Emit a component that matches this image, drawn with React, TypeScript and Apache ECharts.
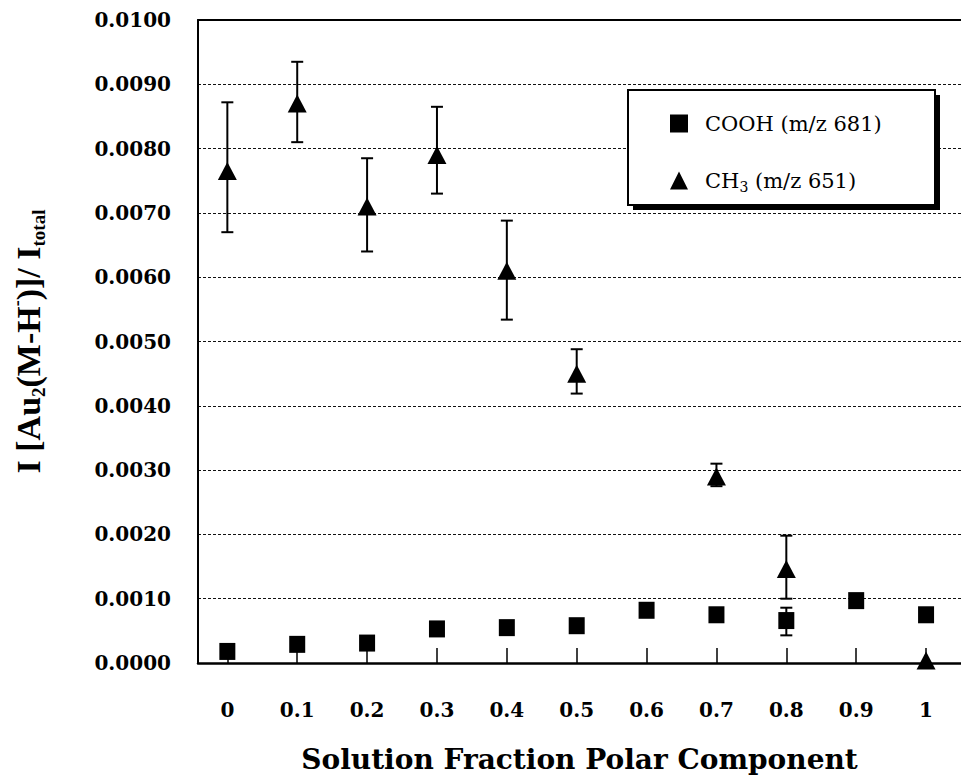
import React, { useEffect, useRef } from "react";
import * as echarts from "echarts";

// Solution fraction of the polar component (x positions of the samples)
const fractions = [0, 0.1, 0.2, 0.3, 0.4, 0.5, 0.6, 0.7, 0.8, 0.9, 1];
const xTicks = [0, 0.1, 0.2, 0.3, 0.4, 0.5, 0.6, 0.7, 0.8, 0.9, 1];
const yTicks = [0, 0.001, 0.002, 0.003, 0.004, 0.005, 0.006, 0.007, 0.008, 0.009, 0.01];

// COOH-terminated component, m/z 681
const coohValues = [0.00018, 0.00029, 0.00031, 0.00053, 0.00055, 0.00058, 0.00082, 0.00075, 0.00066, 0.00097, 0.00075];
const coohLow = [null, null, null, null, null, null, null, null, 0.00043, null, null];
const coohHigh = [null, null, null, null, null, null, null, null, 0.00086, null, null];

// CH3-terminated component, m/z 651
const ch3Values = [0.00765, 0.0087, 0.0071, 0.0079, 0.0061, 0.0045, null, 0.0029, 0.00146, null, 0.00004];
const ch3Low = [0.0067, 0.0081, 0.0064, 0.0073, 0.00534, 0.00419, null, 0.00275, 0.001, null, null];
const ch3High = [0.00872, 0.00935, 0.00785, 0.00865, 0.00688, 0.00488, null, 0.0031, 0.00198, null, null];

const serif = "'DejaVu Serif', 'Liberation Serif', serif";
const timesBold = "'Liberation Serif', 'DejaVu Serif', serif";

const points = (vals: (number | null)[]) =>
  fractions.map((x, i) => (vals[i] == null ? null : [x, vals[i]])).filter((d) => d !== null);

const ranges = (lo: (number | null)[], hi: (number | null)[]) =>
  fractions
    .map((x, i) => (lo[i] == null || hi[i] == null ? null : [x, lo[i], hi[i]]))
    .filter((d) => d !== null);

const errorBars = (id: string, lo: (number | null)[], hi: (number | null)[]) => ({
  type: "custom",
  id,
  data: ranges(lo, hi),
  encode: { x: 0, y: [1, 2] },
  z: 1,
  silent: true,
  renderItem: (_params: any, api: any) => {
    const x = api.value(0);
    const top = api.coord([x, api.value(2)]);
    const bot = api.coord([x, api.value(1)]);
    const cap = 6;
    const style = { stroke: "#000", lineWidth: 2 };
    return {
      type: "group",
      children: [
        { type: "line", shape: { x1: top[0], y1: top[1], x2: bot[0], y2: bot[1] }, style },
        { type: "line", shape: { x1: top[0] - cap, y1: top[1], x2: top[0] + cap, y2: top[1] }, style },
        { type: "line", shape: { x1: bot[0] - cap, y1: bot[1], x2: bot[0] + cap, y2: bot[1] }, style },
      ],
    };
  },
});

export default function App() {
  const ref = useRef<HTMLDivElement>(null);

  useEffect(() => {
    if (!ref.current) return;
    const chart = echarts.init(ref.current, undefined, { renderer: "svg" });
    chart.setOption({
      animation: false,
      backgroundColor: "#fff",
      grid: { left: 190, right: -7, top: 20, bottom: 111, containLabel: false },
      xAxis: [
        {
          type: "value",
          min: -0.042,
          max: 1.05,
          name: "Solution Fraction Polar Component",
          nameLocation: "middle",
          nameGap: 82,
          nameTextStyle: { fontFamily: serif, fontWeight: "bold", fontSize: 28, color: "#000" },
          axisLine: { show: true, onZero: false, lineStyle: { color: "#000", width: 2.5 } },
          axisTick: {
            show: true,
            inside: true,
            length: 15,
            customValues: xTicks,
            lineStyle: { color: "#000", width: 1.5 },
          },
          axisLabel: {
            customValues: xTicks,
            margin: 37,
            fontFamily: serif,
            fontWeight: "bold",
            fontSize: 20,
            color: "#000",
            formatter: (v: number) => String(Math.round(v * 10) / 10),
          },
          splitLine: { show: false },
        },
        {
          type: "value",
          position: "top",
          min: -0.042,
          max: 1.05,
          axisLine: { show: true, onZero: false, lineStyle: { color: "#000", width: 2 } },
          axisTick: { show: false },
          axisLabel: { show: false },
          splitLine: { show: false },
        },
      ],
      yAxis: {
        type: "value",
        min: 0,
        max: 0.01,
        interval: 0.001,
        name: "{m|I [Au}{sub|2}{m|(M-H}{sup|-}{m|)]/ I}{sub|total}",
        nameLocation: "middle",
        nameGap: 150,
        nameRotate: 90,
        nameTextStyle: {
          rich: {
            m: { fontFamily: timesBold, fontWeight: "bold", fontSize: 34, color: "#000", lineHeight: 40 },
            sub: {
              fontFamily: timesBold,
              fontWeight: "bold",
              fontSize: 19,
              color: "#000",
              lineHeight: 14,
              verticalAlign: "bottom",
            },
            sup: {
              fontFamily: timesBold,
              fontWeight: "bold",
              fontSize: 18,
              color: "#000",
              lineHeight: 14,
              verticalAlign: "top",
            },
          },
        },
        axisLine: { show: true, onZero: false, lineStyle: { color: "#000", width: 2 } },
        axisTick: { show: false },
        axisLabel: {
          margin: 27,
          fontFamily: serif,
          fontWeight: "bold",
          fontSize: 20,
          color: "#000",
          formatter: (v: number) => v.toFixed(4),
          customValues: yTicks,
        },
        splitLine: { show: true, lineStyle: { color: "#111", width: 1.2, type: [3, 2] } },
      },
      legend: {
        orient: "vertical",
        left: 665,
        top: 108,
        itemWidth: 18,
        itemHeight: 18,
        itemGap: 36,
        z: 5,
        data: [
          { name: "COOH", icon: "rect" },
          { name: "CH3", icon: "triangle" },
        ],
        formatter: (name: string) =>
          name === "CH3" ? "{a|CH}{s|3}{a| (m/z 651)}" : "{a|COOH (m/z 681)}",
        textStyle: {
          padding: [0, 0, 0, 12],
          rich: {
            a: { fontFamily: serif, fontSize: 21, color: "#000", lineHeight: 26 },
            s: { fontFamily: serif, fontSize: 14, color: "#000", lineHeight: 12, verticalAlign: "bottom" },
          },
        },
      },
      graphic: [
        { type: "rect", z: 3, shape: { x: 633, y: 95, width: 307, height: 115 }, style: { fill: "#000" } },
        {
          type: "rect",
          z: 4,
          shape: { x: 628, y: 90, width: 307, height: 115 },
          style: { fill: "#fff", stroke: "#000", lineWidth: 2 },
        },
      ],
      series: [
        errorBars("cooh-err", coohLow, coohHigh),
        errorBars("ch3-err", ch3Low, ch3High),
        {
          type: "scatter",
          name: "COOH",
          data: points(coohValues),
          symbol: "rect",
          symbolSize: [16, 17],
          itemStyle: { color: "#000", opacity: 1 },
          z: 3,
          clip: false,
        },
        {
          type: "scatter",
          name: "CH3",
          data: points(ch3Values),
          symbol: "triangle",
          symbolSize: [19, 18],
          itemStyle: { color: "#000", opacity: 1 },
          z: 3,
          clip: false,
        },
      ],
    });
    return () => chart.dispose();
  }, []);

  return (
    <div
      ref={ref}
      style={{ position: "absolute", left: 0, top: 0, width: 961, height: 778, background: "#fff" }}
    />
  );
}
